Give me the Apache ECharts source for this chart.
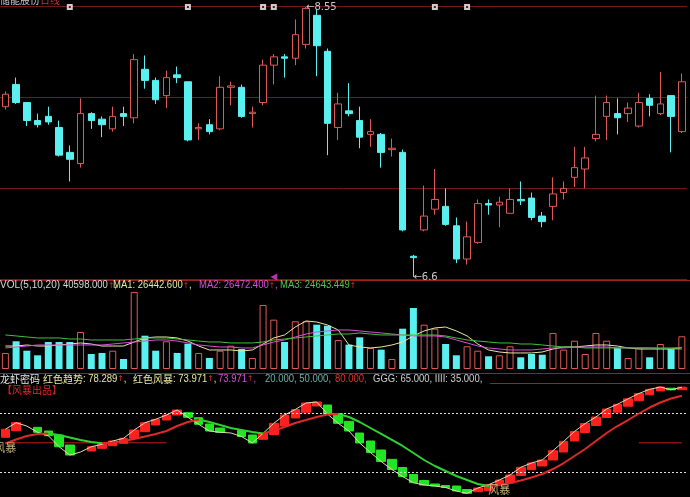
<!DOCTYPE html>
<html><head><meta charset="utf-8">
<script src="https://cdn.jsdelivr.net/npm/echarts@6/dist/echarts.min.js"></script>
<style>html,body{margin:0;padding:0;background:#000;overflow:hidden}#c{width:690px;height:497px}</style>
</head><body><div id="c"></div>
<script>
// ---------- data ----------
const days = Array.from({length: 64}, (_, i) => 'D' + (i + 1));
const open  = [7.83,7.99,7.86,7.73,7.76,7.68,7.50,7.42,7.78,7.74,7.67,7.78,7.75,8.10,8.02,7.91,8.06,8.01,7.67,7.70,7.67,7.97,7.97,7.78,7.86,8.13,8.19,8.18,8.28,8.49,8.23,7.68,7.80,7.73,7.63,7.63,7.52,7.50,6.75,6.94,7.09,7.11,6.97,6.73,6.85,7.13,7.12,7.06,7.16,7.17,7.04,7.11,7.21,7.32,7.38,7.60,7.76,7.78,7.78,7.69,7.89,7.78,7.91,7.65];
const close = [7.92,7.86,7.73,7.70,7.72,7.48,7.45,7.78,7.73,7.70,7.76,7.76,8.17,8.02,7.88,8.04,8.04,7.59,7.68,7.65,7.97,7.98,7.76,7.79,8.13,8.19,8.18,8.35,8.54,8.27,7.71,7.85,7.78,7.61,7.65,7.50,7.53,6.94,6.74,7.04,7.16,6.98,6.73,6.89,7.13,7.12,7.14,7.16,7.15,7.03,7.00,7.20,7.24,7.39,7.46,7.63,7.86,7.75,7.82,7.86,7.84,7.85,7.76,8.01];
const high  = [7.94,8.04,7.86,7.78,7.83,7.73,7.55,7.89,7.79,7.76,7.83,7.83,8.21,8.20,8.04,8.09,8.12,8.01,7.71,7.74,8.05,8.01,7.99,7.83,8.17,8.21,8.21,8.46,8.55,8.53,8.25,7.93,8.00,7.83,7.74,7.64,7.60,7.52,6.76,7.26,7.38,7.24,7.03,7.00,7.16,7.16,7.18,7.24,7.29,7.21,7.07,7.32,7.29,7.54,7.54,7.91,7.91,7.89,7.86,7.93,7.92,8.08,7.91,8.07];
const low   = [7.81,7.85,7.69,7.68,7.70,7.47,7.29,7.39,7.67,7.61,7.65,7.69,7.71,7.96,7.85,7.82,8.00,7.58,7.59,7.63,7.66,7.84,7.75,7.68,7.84,7.99,8.04,8.13,8.25,8.05,7.48,7.59,7.76,7.53,7.54,7.39,7.47,6.93,6.60,6.93,7.05,6.97,6.70,6.69,6.84,7.05,6.96,7.06,7.12,7.01,6.96,7.01,7.16,7.25,7.24,7.58,7.59,7.63,7.72,7.68,7.76,7.77,7.50,7.64];
const markerDays = [6, 17, 24, 25, 40, 43];
const cursorDay = 25;

const volume = [19900,34400,22700,17000,33500,33500,33500,45900,18600,19900,22700,12400,95600,41300,22700,34400,19900,31400,19900,13700,22700,28900,24800,13700,79400,61200,33500,59200,59200,55000,53700,36000,30200,39300,26100,24000,12400,50000,75700,55000,50000,31000,17000,28200,22700,15800,17000,28200,14500,18600,17700,44700,24000,35100,18600,44700,35100,26100,13700,26100,14500,31000,25200,40598];
const ma1 = [28500,28500,29800,28500,28500,29800,31000,32300,31000,28500,28500,28500,33500,38500,39700,39700,38500,34700,28500,23600,23600,23600,22300,23600,31000,38500,42200,52100,59600,58300,54600,48400,29800,27300,26100,27300,29800,33500,41000,47200,50900,52100,47200,41000,31000,23600,21100,19900,19900,19900,21100,24800,27300,27300,28500,29800,29800,28500,26100,24800,24800,24800,24800,26442];
const ma2 = [26100,27300,28500,29800,29800,29800,29800,29800,29800,29800,31000,32300,33500,34700,36000,36000,34700,32300,29800,28500,27300,27300,26100,26100,29800,33500,36000,39700,43400,45900,47200,48400,48400,47200,45900,44700,43400,42200,41000,41000,41000,39700,36000,32300,28500,26100,24800,23600,23600,23600,24800,26100,26100,27300,27300,27300,27300,26100,26100,26100,26100,26100,26100,26472];
const ma3 = [42200,41000,39700,38500,38500,38500,37200,37200,36000,36000,36000,36000,37200,38500,38500,38500,37200,36000,34700,33500,33500,32300,32300,32300,33500,36000,37200,38500,39700,41000,42200,43400,43400,44700,43400,42200,42200,42200,42200,42200,42200,41000,38500,36000,34700,33500,32300,32300,31000,31000,29800,28500,27300,27300,26100,26100,26100,26100,26100,26100,26100,25500,25000,24643];

// 红色趋势 boxes (open -> close), null open = no box
const trendOpen  = [52.80,56.15,null,57.88,56.00,53.97,48.88,null,45.83,47.21,48.53,49.75,52.29,55.65,59.05,61.59,64.14,65.31,62.76,59.56,57.53,null,56.26,53.97,51.78,54.22,58.54,62.61,65.51,68.71,69.22,64.90,60.93,54.98,50.92,46.34,41.61,37.44,33.89,30.84,29.06,28.30,28.04,26.26,25.14,25.65,28.70,29.57,33.38,36.33,38.21,41.26,45.32,50.92,55.24,58.80,62.86,65.56,68.61,71.41,74.41,76.34,77.76,77.00];
const trendClose = [56.87,60.22,58.50,55.34,53.61,48.02,43.80,45.30,48.02,49.24,50.92,52.29,56.51,60.22,61.95,64.14,66.68,62.97,59.41,56.00,55.34,55.00,53.20,49.90,54.83,59.92,64.14,66.93,70.24,70.74,64.64,59.92,56.00,49.90,45.07,40.50,36.43,32.87,29.72,28.55,28.04,27.28,25.50,24.33,27.02,28.70,31.09,33.63,37.55,39.73,41.26,45.99,50.76,55.75,59.81,63.12,67.19,69.58,72.37,75.07,77.20,78.37,76.95,78.29];
// 红色风暴 smooth line
const storm = [49.65,51.68,53.46,54.48,54.73,53.97,52.70,51.43,50.41,49.75,50.15,50.92,51.93,53.21,54.48,56.00,58.54,60.58,61.85,60.58,59.05,57.53,56.51,55.49,54.73,56.26,58.03,60.07,61.59,63.12,64.39,64.64,63.12,60.58,57.53,54.48,51.43,48.38,44.82,41.26,38.21,35.67,33.12,31.09,29.06,28.04,28.55,29.56,30.84,32.36,34.14,36.68,39.73,43.29,46.85,50.92,54.98,58.54,61.59,64.90,67.95,70.49,72.52,73.97];
const GGG = 65, IIII = 35, MID = 50;
const midDays = [[0, 15], [59, 63]];
const signalDays = [0, 46];
const signalVals = [47.4, 26.0];

// ---------- build ----------
const RED = '#dc5a5a', CYAN = '#5af0f0';
const kData = open.map((o, i) => [o, close[i], low[i], high[i]]);
const volData = volume.map((v, i) => ({
  value: v,
  itemStyle: close[i] >= open[i]
    ? {color: 'rgba(0,0,0,0)', borderColor: RED, borderWidth: 1}
    : {color: CYAN, borderColor: CYAN, borderWidth: 0}
}));
const boxData = trendOpen.map((o, i) => o == null ? '-' :
  [o, trendClose[i], Math.min(o, trendClose[i]), Math.max(o, trendClose[i])]);
const midLine = days.map((d, i) => midDays.some(r => i >= r[0] && i <= r[1]) ? MID : null);
const pieces = [];
for (let i = 1; i < storm.length; i++) {
  pieces.push({gt: i - 1, lte: i, color: storm[i] >= storm[i - 1] ? '#e02828' : '#30d030'});
}
pieces.unshift({lte: 0, color: pieces[0].color});

const GL = -1.4, GW = 688.6;
const ASCII = '10px "Liberation Sans", Arial, sans-serif';
const CJK = '10px "Noto Sans CJK SC", sans-serif';
function t(x, y, text, fill, font, sx) {
  return {type: 'text', x: x, y: y, silent: true, z: 100, scaleX: sx || 1,
    style: {text: text.replace(/\u2191/g, '{r|\u2191}'), fill: fill, font: font || ASCII,
      verticalAlign: 'middle',
      rich: {r: {fill: '#e03030', font: '8px "DejaVu Sans", sans-serif'}}}};
}
function hl(y, x1, x2, c) {
  return {type: 'line', silent: true, z: 1, shape: {x1: x1, y1: y, x2: x2, y2: y}, style: {stroke: c, lineWidth: 1}};
}
const hidden = {show: false};
const SX = 0.95;

const option = {
  backgroundColor: '#000',
  animation: false,
  grid: [
    {left: GL, width: GW, top: 6, height: 273},
    {left: GL, width: GW, top: 290, height: 79},
    {left: GL, width: GW, top: 383.8, height: 113.2}
  ],
  xAxis: [0, 1, 2].map(g => ({type: 'category', data: days, gridIndex: g, show: false, boundaryGap: true})),
  yAxis: [
    {gridIndex: 0, min: 6.5856, max: 8.5572, show: false, scale: true},
    {gridIndex: 0, min: 0, max: 3, interval: 1, axisLine: hidden, axisTick: hidden, axisLabel: hidden,
      splitLine: {show: true, lineStyle: {color: '#6e1a1a', width: 1}}},
    {gridIndex: 1, min: 0, max: 98000, show: false},
    {gridIndex: 2, min: 22.45, max: 80, show: false}
  ],
  visualMap: [{type: 'piecewise', show: false, seriesIndex: 11, dimension: 0, pieces: pieces}],
  series: [
    {type: 'candlestick', xAxisIndex: 0, yAxisIndex: 0, data: kData, barWidth: 7,
      itemStyle: {color: '#000', color0: CYAN, borderColor: RED, borderColor0: CYAN, borderWidth: 1},
      markPoint: {symbol: 'circle', symbolSize: 0,
        label: {show: true, position: 'right', distance: 0, color: '#c8c8c8', fontSize: 10,
          fontFamily: 'DejaVu Sans', formatter: p => '\u2190' + p.value},
        data: [{type: 'max', valueDim: 'highest'}, {type: 'min', valueDim: 'lowest'}]}},
    {type: 'scatter', xAxisIndex: 0, yAxisIndex: 0, symbol: 'rect', symbolSize: 6, z: 5,
      itemStyle: {color: '#fff'}, data: markerDays.map(d => [d, 8.55])},
    {type: 'scatter', xAxisIndex: 0, yAxisIndex: 0, symbol: 'rect', symbolSize: 2, z: 6,
      itemStyle: {color: '#000'}, data: markerDays.map(d => [d, 8.55])},
    {type: 'scatter', xAxisIndex: 0, yAxisIndex: 0, symbol: 'triangle', symbolRotate: 90, symbolSize: 7,
      itemStyle: {color: '#e040e0'}, data: [[cursorDay, 6.60]]},
    {type: 'bar', xAxisIndex: 1, yAxisIndex: 2, data: volData, barWidth: 7},
    {type: 'line', xAxisIndex: 1, yAxisIndex: 2, data: ma1, symbol: 'none', lineStyle: {color: '#e8e8a0', width: 1}},
    {type: 'line', xAxisIndex: 1, yAxisIndex: 2, data: ma2, symbol: 'none', lineStyle: {color: '#d850d8', width: 1}},
    {type: 'line', xAxisIndex: 1, yAxisIndex: 2, data: ma3, symbol: 'none', lineStyle: {color: '#40c040', width: 1}},
    {type: 'candlestick', xAxisIndex: 2, yAxisIndex: 3, data: boxData, barWidth: 9, z: 3,
      itemStyle: {color: '#ff2020', color0: '#22e622', borderColor: '#ff2020', borderColor0: '#22e622', borderWidth: 1}},
    {type: 'line', xAxisIndex: 2, yAxisIndex: 3, data: midLine, symbol: 'none', z: 2,
      lineStyle: {color: '#c02020', width: 1}},
    {type: 'line', xAxisIndex: 2, yAxisIndex: 3, data: trendClose, symbol: 'none', z: 4,
      lineStyle: {color: '#e0dcb0', width: 1},
      markLine: {silent: true, symbol: ['none', 'none'], label: {show: false},
        lineStyle: {color: '#e0e0e0', type: [2, 2], width: 1},
        data: [{yAxis: GGG}, {yAxis: IIII}]}},
    {type: 'line', xAxisIndex: 2, yAxisIndex: 3, data: storm, symbol: 'none', z: 5,
      lineStyle: {width: 2}},
    {type: 'scatter', xAxisIndex: 2, yAxisIndex: 3, symbolSize: 10, z: 6,
      itemStyle: {color: 'rgba(0,0,0,0)'},
      label: {show: true, position: 'inside', formatter: '风暴', color: '#eedc9a', fontSize: 11,
        fontFamily: 'Noto Sans CJK SC'},
      data: signalDays.map((d, i) => [d, signalVals[i]])}
  ],
  graphic: [
    hl(280.5, 0, 690, '#a01e1e'),
    hl(373.5, 0, 690, '#a01e1e'),
    hl(383.5, 490, 690, '#a01e1e'),
    t(0, 0, '储能股份', '#c8c8c8', CJK),
    t(40, 0, '日线', '#d03030', CJK),
    t(0, 285.5, 'VOL(5,10,20)', '#d8d8d8', null, 1),
    t(63, 285.5, '40598.000\u2191,', '#d8d8d8', null, SX),
    t(113, 285.5, 'MA1: 26442.600\u2191,', '#e8e8a0', null, SX),
    t(199, 285.5, 'MA2: 26472.400\u2191,', '#d850d8', null, SX),
    t(280, 285.5, 'MA3: 24643.449\u2191', '#50c850', null, SX),
    t(0, 379, '龙虾密码', '#e8e8e8', CJK),
    t(43, 379, '红色趋势', '#e8e8a0', CJK),
    t(83, 379, ': 78.289\u2191,', '#e8e8a0', null, SX),
    t(133, 379, '红色风暴', '#e8e8a0', CJK),
    t(173, 379, ': 73.971\u2191,', '#e8e8a0', null, SX),
    t(218, 379, '73.971\u2191,', '#d850d8', null, SX),
    t(265, 379, '20.000, 50.000,', '#70b0a8', null, SX),
    t(335, 379, '80.000,', '#e03030', null, SX),
    t(373, 379, 'GGG: 65.000, IIII: 35.000,', '#d0d0d0', null, SX),
    t(2, 390, '【风暴出品】', '#e02828', CJK)
  ]
};
const chart = echarts.init(document.getElementById('c'), null, {renderer: 'canvas'});
chart.setOption(option);
</script>
</body></html>
